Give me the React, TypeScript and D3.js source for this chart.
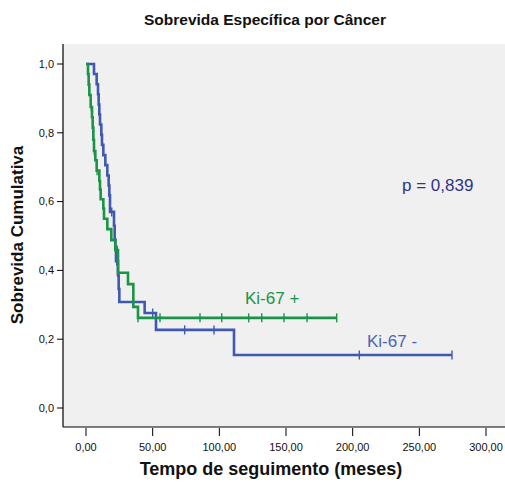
import React from "react";
import * as d3 from "d3";

// Kaplan–Meier steps: event times (months) and survival after each event
const negTimes = [0, 6, 8, 9, 9.5, 10, 10.5, 11.5, 12, 13, 14.5, 16, 17, 17.5, 18, 21, 21.5, 22, 22.5, 24, 24.5, 25, 44, 52.5, 111];
const negSurvival = [1, 0.971, 0.941, 0.912, 0.882, 0.853, 0.824, 0.794, 0.765, 0.735, 0.706, 0.676, 0.647, 0.618, 0.57, 0.53, 0.49, 0.46, 0.427, 0.385, 0.346, 0.308, 0.276, 0.227, 0.154];
const negCensored = [19.3, 23, 50, 74, 96, 205, 274.5];

const posTimes = [0, 1.5, 2, 2.5, 3.5, 4.5, 5, 5.5, 6, 7, 8, 10, 10.5, 11, 13, 13.5, 16, 19, 22, 24, 31.5, 35.5, 39];
const posSurvival = [1, 0.97, 0.94, 0.91, 0.875, 0.845, 0.815, 0.78, 0.747, 0.72, 0.69, 0.66, 0.635, 0.607, 0.58, 0.55, 0.52, 0.488, 0.459, 0.393, 0.36, 0.294, 0.262];
const posCensored = [4, 6.2, 8.3, 23.5, 39, 55.5, 85.5, 101.8, 122, 131.8, 148.5, 165.8, 188];

const xTicks = [0, 50, 100, 150, 200, 250, 300];
const yTicks = [0, 0.2, 0.4, 0.6, 0.8, 1.0];

const BLUE = "#3f59b1";
const GREEN = "#1b9446";
const FONT = "'Liberation Sans', Arial, sans-serif";

type Pt = [number, number];

function survivalAt(times: number[], surv: number[], t: number): number {
  let s = surv[0];
  for (let i = 0; i < times.length; i++) if (times[i] <= t) s = surv[i];
  return s;
}

function stepPoints(times: number[], surv: number[], end: number): Pt[] {
  const pts: Pt[] = times.map((t, i) => [t, surv[i]] as Pt);
  pts.push([end, surv[surv.length - 1]]);
  return pts;
}

const fmt = (v: number, d: number) => v.toFixed(d).replace(".", ",");

export default function App() {
  const width = 505;
  const height = 482;
  const plotLeft = 63;
  const plotTop = 44;
  const plotBottom = 427;
  const plotRight = 505;

  const x = d3.scaleLinear().domain([0, 300]).range([86, 486]);
  const y = d3.scaleLinear().domain([0, 1]).range([408, 64]);

  const line = d3
    .line<Pt>()
    .x((d) => x(d[0]))
    .y((d) => y(d[1]))
    .curve(d3.curveStepAfter);

  const series = [
    {
      key: "neg",
      color: BLUE,
      pts: stepPoints(negTimes, negSurvival, d3.max(negCensored) as number),
      cens: negCensored.map((t) => [t, survivalAt(negTimes, negSurvival, t)] as Pt),
    },
    {
      key: "pos",
      color: GREEN,
      pts: stepPoints(posTimes, posSurvival, d3.max(posCensored) as number),
      cens: posCensored.map((t) => [t, survivalAt(posTimes, posSurvival, t)] as Pt),
    },
  ];

  return (
    <svg
      width={width}
      height={height}
      style={{ position: "absolute", left: 0, top: 0, background: "#fff" }}
      fontFamily={FONT}
    >
      <rect x={plotLeft} y={plotTop} width={plotRight - plotLeft} height={plotBottom - plotTop} fill="#f0f0f0" />

      <text x={265} y={25} textAnchor="middle" fontSize={15.5} fontWeight="bold" fill="#111">
        Sobrevida Específica por Câncer
      </text>

      {/* axes */}
      <line x1={plotLeft} x2={plotLeft} y1={plotTop} y2={plotBottom} stroke="#000" strokeWidth={1.2} />
      <line x1={plotLeft} x2={plotRight} y1={plotBottom} y2={plotBottom} stroke="#000" strokeWidth={1.2} />

      {yTicks.map((v) => (
        <g key={"y" + v}>
          <line x1={57} x2={plotLeft} y1={y(v)} y2={y(v)} stroke="#000" strokeWidth={1} />
          <text x={54} y={y(v)} dy="0.35em" textAnchor="end" fontSize={11} fill="#111">
            {fmt(v, 1)}
          </text>
        </g>
      ))}
      {xTicks.map((v) => (
        <g key={"x" + v}>
          <line x1={x(v)} x2={x(v)} y1={428} y2={436} stroke="#000" strokeWidth={1} />
          <text x={x(v)} y={451} textAnchor="middle" fontSize={11} fill="#111">
            {fmt(v, 2)}
          </text>
        </g>
      ))}

      <text x={271} y={475} textAnchor="middle" fontSize={18} fontWeight="bold" fill="#111">
        Tempo de seguimento (meses)
      </text>
      <text
        transform="translate(23,235) rotate(-90)"
        textAnchor="middle"
        fontSize={17}
        fontWeight="bold"
        fill="#111"
      >
        Sobrevida Cumulativa
      </text>

      {/* survival curves */}
      {series.map((s) => (
        <g key={s.key}>
          <path d={line(s.pts) || ""} fill="none" stroke={s.color} strokeWidth={2.6} />
          {s.cens.map((c, i) => (
            <line
              key={i}
              x1={x(c[0])}
              x2={x(c[0])}
              y1={y(c[1]) - 4.5}
              y2={y(c[1]) + 4.5}
              stroke={s.color}
              strokeWidth={1.4}
            />
          ))}
        </g>
      ))}

      <text x={245} y={304} fontSize={17} fill={GREEN}>
        Ki-67 +
      </text>
      <text x={367} y={347} fontSize={17} fill="#4a64b8">
        Ki-67 -
      </text>
      <text x={402} y={191} fontSize={17} fill="#2f3486">
        p = 0,839
      </text>
    </svg>
  );
}
